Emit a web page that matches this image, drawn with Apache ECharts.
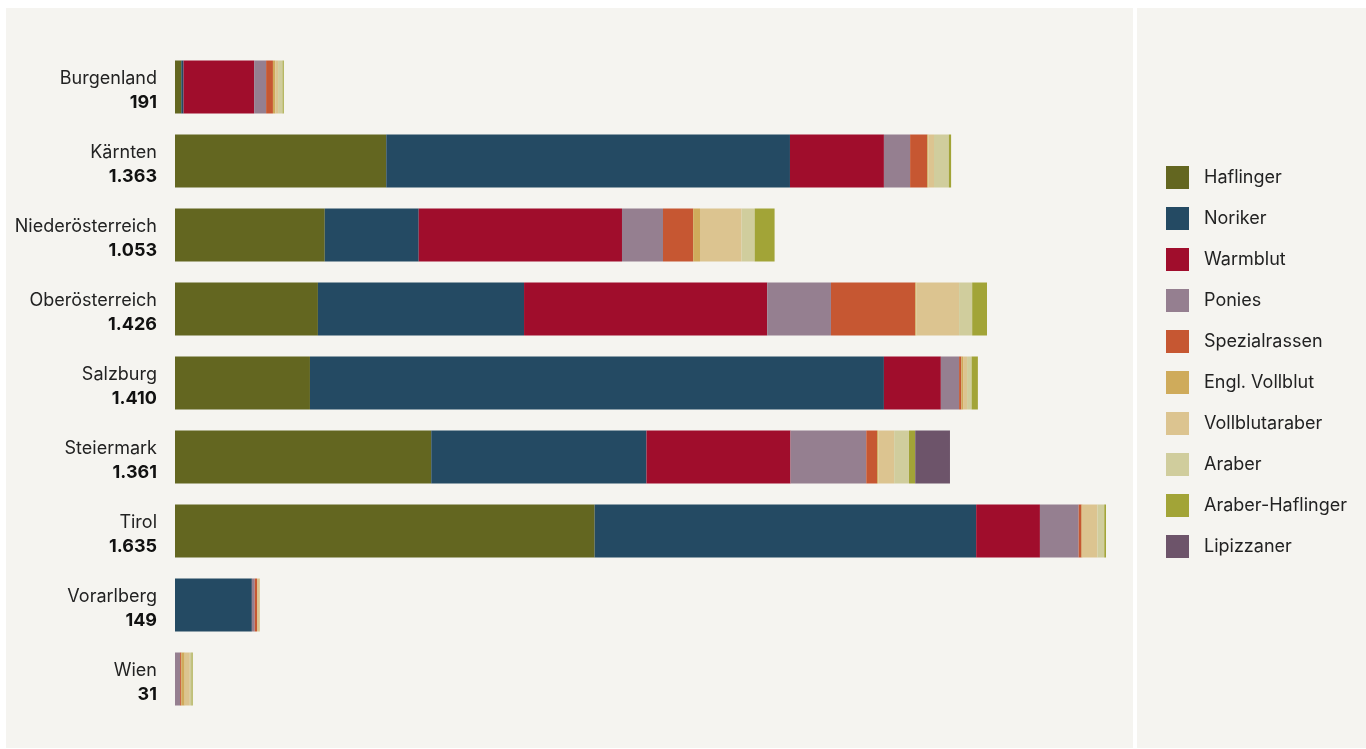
<!DOCTYPE html>
<html lang="de">
<head>
<meta charset="utf-8">
<title>Pferderassen nach Bundesland</title>
<script src="https://cdn.jsdelivr.net/npm/echarts@6/dist/echarts.min.js"></script>
<style>
  html, body { margin: 0; padding: 0; background: #ffffff; }
  #chart { width: 1366px; height: 749px; }
</style>
</head>
<body>
<div id="chart"></div>
<script>
// Bundesländer and their totals
const regions = ['Burgenland', 'Kärnten', 'Niederösterreich', 'Oberösterreich', 'Salzburg', 'Steiermark', 'Tirol', 'Vorarlberg', 'Wien'];
const totals = [191, 1363, 1053, 1426, 1410, 1361, 1635, 149, 31];

// Horses per breed, in the order of regions
const haflinger      = [11, 371, 263, 251, 237, 450, 737, 0, 0];
const noriker        = [4, 709, 165, 362, 1008, 378, 670, 135, 0];
const warmblut       = [124, 165, 357, 427, 100, 253, 112, 0, 0];
const ponies         = [21, 46, 72, 112, 32, 133, 68, 5, 9];
const spezialrassen  = [12, 30, 53, 148, 4, 19, 5, 4, 2];
const englVollblut   = [4, 2, 12, 2, 3, 2, 2, 0, 6];
const vollblutaraber = [5, 10, 73, 75, 7, 28, 26, 5, 9];
const araber         = [8, 26, 23, 23, 8, 26, 12, 0, 3];
const araberHaflinger= [2, 4, 35, 26, 11, 11, 3, 0, 2];
const lipizzaner     = [0, 0, 0, 0, 0, 61, 0, 0, 0];

const breeds = [
  { name: 'Haflinger',       data: haflinger,       color: '#636620' },
  { name: 'Noriker',         data: noriker,         color: '#244a63' },
  { name: 'Warmblut',        data: warmblut,        color: '#a00d2c' },
  { name: 'Ponies',          data: ponies,          color: '#957f90' },
  { name: 'Spezialrassen',   data: spezialrassen,   color: '#c65732' },
  { name: 'Engl. Vollblut',  data: englVollblut,    color: '#cfab5b' },
  { name: 'Vollblutaraber',  data: vollblutaraber,  color: '#dcc490' },
  { name: 'Araber',          data: araber,          color: '#d0cd9d' },
  { name: 'Araber-Haflinger',data: araberHaflinger, color: '#a2a437' },
  { name: 'Lipizzaner',      data: lipizzaner,      color: '#6d546a' }
];

// thousands separator as a dot (1.363)
const fmt = v => String(v).replace(/\B(?=(\d{3})+(?!\d))/g, '.');

const chart = echarts.init(document.getElementById('chart'), null, { renderer: 'canvas' });

chart.setOption({
  animation: false,
  backgroundColor: '#ffffff',
  textStyle: { fontFamily: 'Inter, "Noto Sans", sans-serif' },
  graphic: [
    { type: 'rect', z: -10, silent: true, shape: { x: 6, y: 8, width: 1127, height: 740 }, style: { fill: '#f5f4f0' } },
    { type: 'rect', z: -10, silent: true, shape: { x: 1137, y: 8, width: 229, height: 740 }, style: { fill: '#f5f4f0' } }
  ],
  grid: { left: 175, top: 50, width: 968, height: 666, containLabel: false, outerBoundsMode: 'none' },
  xAxis: {
    type: 'value', min: 0, max: 1700, show: false,
    splitLine: { show: false }
  },
  yAxis: {
    type: 'category',
    data: regions,
    inverse: true,
    axisLine: { show: false },
    axisTick: { show: false },
    axisLabel: {
      margin: 18,
      align: 'right',
      padding: [8, 0, 0, 0],
      formatter: (name, i) => '{n|' + name + '}\n{v|' + fmt(totals[i]) + '}',
      rich: {
        n: { fontSize: 18, color: '#222222', lineHeight: 24, align: 'right', fontFamily: 'Inter, sans-serif' },
        v: { fontSize: 18, color: '#111111', fontWeight: 'bold', lineHeight: 24, align: 'right', fontFamily: 'Inter, sans-serif' }
      }
    }
  },
  legend: {
    orient: 'vertical',
    left: 1166,
    top: 166,
    padding: 0,
    icon: 'rect',
    itemWidth: 23,
    itemHeight: 23,
    itemGap: 18,
    selectedMode: false,
    textStyle: { fontSize: 18, color: '#222222', padding: [2, 0, 0, 10], fontFamily: 'Inter, sans-serif' },
    data: breeds.map(b => b.name)
  },
  series: breeds.map(b => ({
    name: b.name,
    type: 'bar',
    stack: 'total',
    data: b.data,
    barWidth: 53,
    itemStyle: { color: b.color },
    emphasis: { disabled: true }
  }))
});
</script>
</body>
</html>
